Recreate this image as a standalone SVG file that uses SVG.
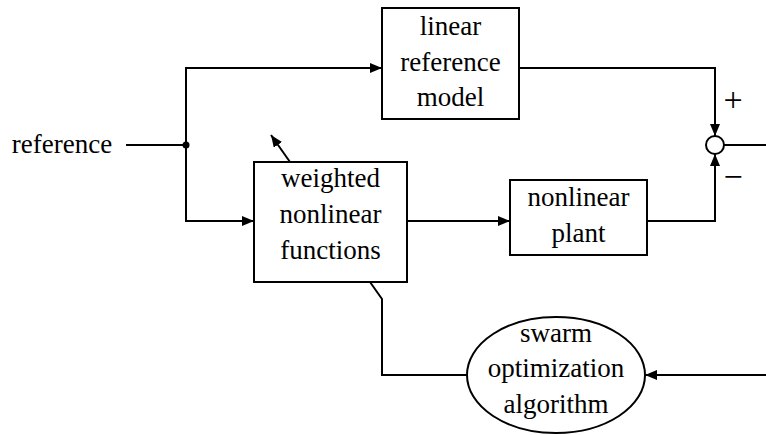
<svg xmlns="http://www.w3.org/2000/svg" width="766" height="435" viewBox="0 0 766 435">
  <style>
    .box { fill: #fff; stroke: #000; stroke-width: 2; }
    .wire { fill: none; stroke: #000; stroke-width: 2; }
    .lbl { font-family: 'Liberation Serif', 'Times New Roman', Times, serif; font-size: 27px; fill: #000; text-anchor: middle; }
    .sign { font-family: 'Liberation Serif', 'Times New Roman', Times, serif; font-size: 34px; fill: #000; text-anchor: middle; }
  </style>
  <defs>
    <marker id="arrow" markerWidth="12" markerHeight="10" refX="12" refY="5" orient="auto" markerUnits="userSpaceOnUse">
      <path d="M0,0 L12,5 L0,10 Z" fill="#000"/>
    </marker>
  </defs>

  <rect width="766" height="435" fill="#fff"/>

  <g id="connectors">
    <!-- input and branch point -->
    <line class="wire" x1="126" y1="145" x2="186" y2="145"/>
    <circle cx="186" cy="145" r="3.5" fill="#000"/>
    <polyline class="wire" points="186,145 186,68 382,68" marker-end="url(#arrow)"/>
    <polyline class="wire" points="186,145 186,221 254,221" marker-end="url(#arrow)"/>
    <!-- weighted functions to plant -->
    <line class="wire" x1="407" y1="221" x2="510" y2="221" marker-end="url(#arrow)"/>
    <!-- model and plant outputs into the summing junction -->
    <polyline class="wire" points="519,68 715,68 715,136" marker-end="url(#arrow)"/>
    <polyline class="wire" points="647,221 715,221 715,154" marker-end="url(#arrow)"/>
    <line class="wire" x1="724" y1="145" x2="766" y2="145"/>
    <!-- error back to the optimizer -->
    <line class="wire" x1="766" y1="375" x2="645" y2="375" marker-end="url(#arrow)"/>
    <!-- optimizer adjusts the weights -->
    <polyline class="wire" points="467,375 382,375 382,299 370,282"/>
    <line class="wire" x1="290" y1="162" x2="271" y2="135" marker-end="url(#arrow)"/>
  </g>

  <g id="sum">
    <circle cx="715" cy="145" r="9" fill="#fff" stroke="#000" stroke-width="2"/>
    <text class="sign" x="733" y="111">+</text>
    <text class="sign" x="733" y="188">−</text>
  </g>

  <g id="input-label">
    <text class="lbl" x="62" y="153">reference</text>
  </g>

  <g id="linear-reference-model">
    <rect class="box" x="382" y="8" width="137" height="111"/>
    <text class="lbl" x="450.5" y="35">linear</text>
    <text class="lbl" x="450.5" y="71">reference</text>
    <text class="lbl" x="450.5" y="106">model</text>
  </g>

  <g id="weighted-nonlinear-functions">
    <rect class="box" x="254" y="162" width="153" height="120"/>
    <text class="lbl" x="330.5" y="187">weighted</text>
    <text class="lbl" x="330.5" y="223">nonlinear</text>
    <text class="lbl" x="330.5" y="259">functions</text>
  </g>

  <g id="nonlinear-plant">
    <rect class="box" x="510" y="180" width="137" height="75"/>
    <text class="lbl" x="578.5" y="206">nonlinear</text>
    <text class="lbl" x="578.5" y="242">plant</text>
  </g>

  <g id="swarm-optimization-algorithm">
    <ellipse class="box" cx="556" cy="375" rx="89" ry="58"/>
    <text class="lbl" x="556" y="342">swarm</text>
    <text class="lbl" x="556" y="377">optimization</text>
    <text class="lbl" x="556" y="413">algorithm</text>
  </g>
</svg>
